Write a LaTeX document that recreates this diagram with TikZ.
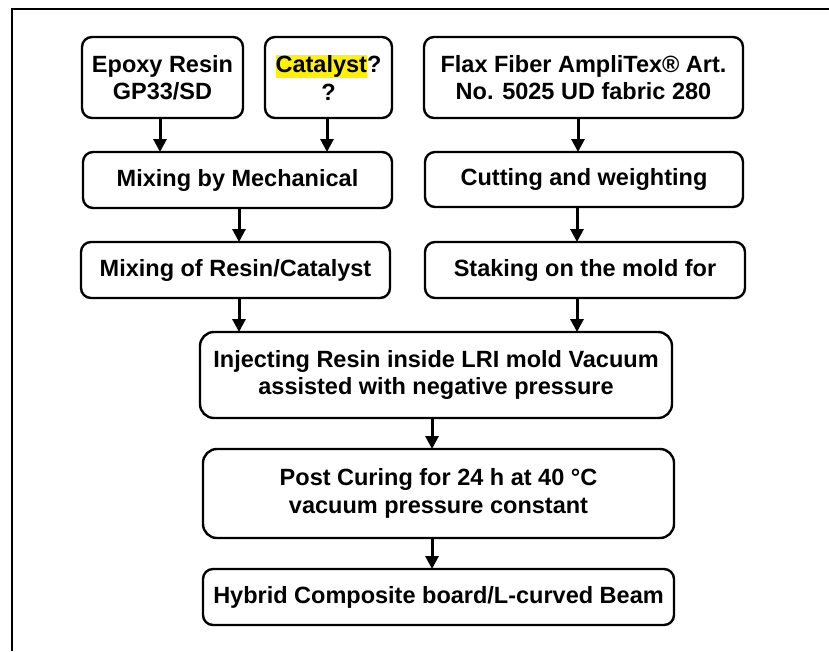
\documentclass[tikz,border=0pt]{standalone}
\usepackage{fontspec}
\setmainfont{Liberation Sans}
\usetikzlibrary{arrows.meta}
\tikzset{
  box/.style={draw=black, line width=2.4pt, rounded corners=10pt, align=center,
    inner sep=0pt, outer sep=0pt, font=\fontsize{23.5}{27.5}\selectfont\bfseries},
  bigbox/.style={box, rounded corners=14pt},
  arr/.style={line width=3pt, -{Triangle[length=13pt,width=13pt]}},
  frame/.style={line width=2.2pt}
}
\begin{document}
\begin{tikzpicture}[x=1pt,y=-1pt]
\useasboundingbox (0,0) rectangle (829,651);
\coordinate (fbl) at (12,651);
\coordinate (ftl) at (12,9);
\coordinate (ftr) at (829,9);
\draw[frame] (fbl) -- (ftl) -- (ftr);

\node[box, minimum width=161pt, minimum height=81pt] (epoxy) at (162.5,77.5) {Epoxy Resin\\GP33/SD};
\node[box, minimum width=127pt, minimum height=81pt] (cat) at (328.5,77.5)
  {{\setlength{\fboxsep}{0pt}\colorbox{yellow}{\rule[-0.22em]{0pt}{1.0em}Catalyst}}?\\?};
\node[box, minimum width=319pt, minimum height=81pt] (flax) at (583.5,77.5) {Flax Fiber AmpliTex® Art.\\No. 5025 UD fabric 280};

\node[box, minimum width=309pt, minimum height=56pt] (mixmech) at (237.5,180) {Mixing by Mechanical};
\node[box, minimum width=318pt, minimum height=55pt] (cut) at (584,179.5) {Cutting and weighting};

\node[box, minimum width=309pt, minimum height=56pt] (mixres) at (235.5,270) {Mixing of Resin/Catalyst};
\node[box, minimum width=320pt, minimum height=56pt] (stak) at (585,270) {Staking on the mold for};

\node[bigbox, minimum width=472pt, minimum height=86pt] (inj) at (436,375) {Injecting Resin inside LRI mold Vacuum\\assisted with negative pressure};
\node[bigbox, minimum width=471pt, minimum height=89pt] (post) at (438.5,493.5) {Post Curing for 24 h at 40 °C\\vacuum pressure constant};
\node[box, minimum width=471pt, minimum height=56pt] (hyb) at (438.5,597) {Hybrid Composite board/L-curved Beam};

\coordinate (a1) at ([xshift=-2.5pt]epoxy.south);
\coordinate (a2) at ([xshift=-1.5pt]cat.south);
\coordinate (a3) at ([xshift=-5.5pt]flax.south);
\coordinate (a4) at ([xshift=1.5pt]mixmech.south);
\coordinate (a5) at ([xshift=-7pt]cut.south);
\coordinate (a6) at ([xshift=3.5pt]mixres.south);
\coordinate (a7) at ([xshift=-8pt]stak.south);
\coordinate (a8) at ([xshift=-4pt]inj.south);
\coordinate (a9) at ([xshift=-6.5pt]post.south);

\draw[arr] (a1) -- (a1 |- mixmech.north);
\draw[arr] (a2) -- (a2 |- mixmech.north);
\draw[arr] (a3) -- (a3 |- cut.north);
\draw[arr] (a4) -- (a4 |- mixres.north);
\draw[arr] (a5) -- (a5 |- stak.north);
\draw[arr] (a6) -- (a6 |- inj.north);
\draw[arr] (a7) -- (a7 |- inj.north);
\draw[arr] (a8) -- (a8 |- post.north);
\draw[arr] (a9) -- (a9 |- hyb.north);
\end{tikzpicture}
\end{document}
